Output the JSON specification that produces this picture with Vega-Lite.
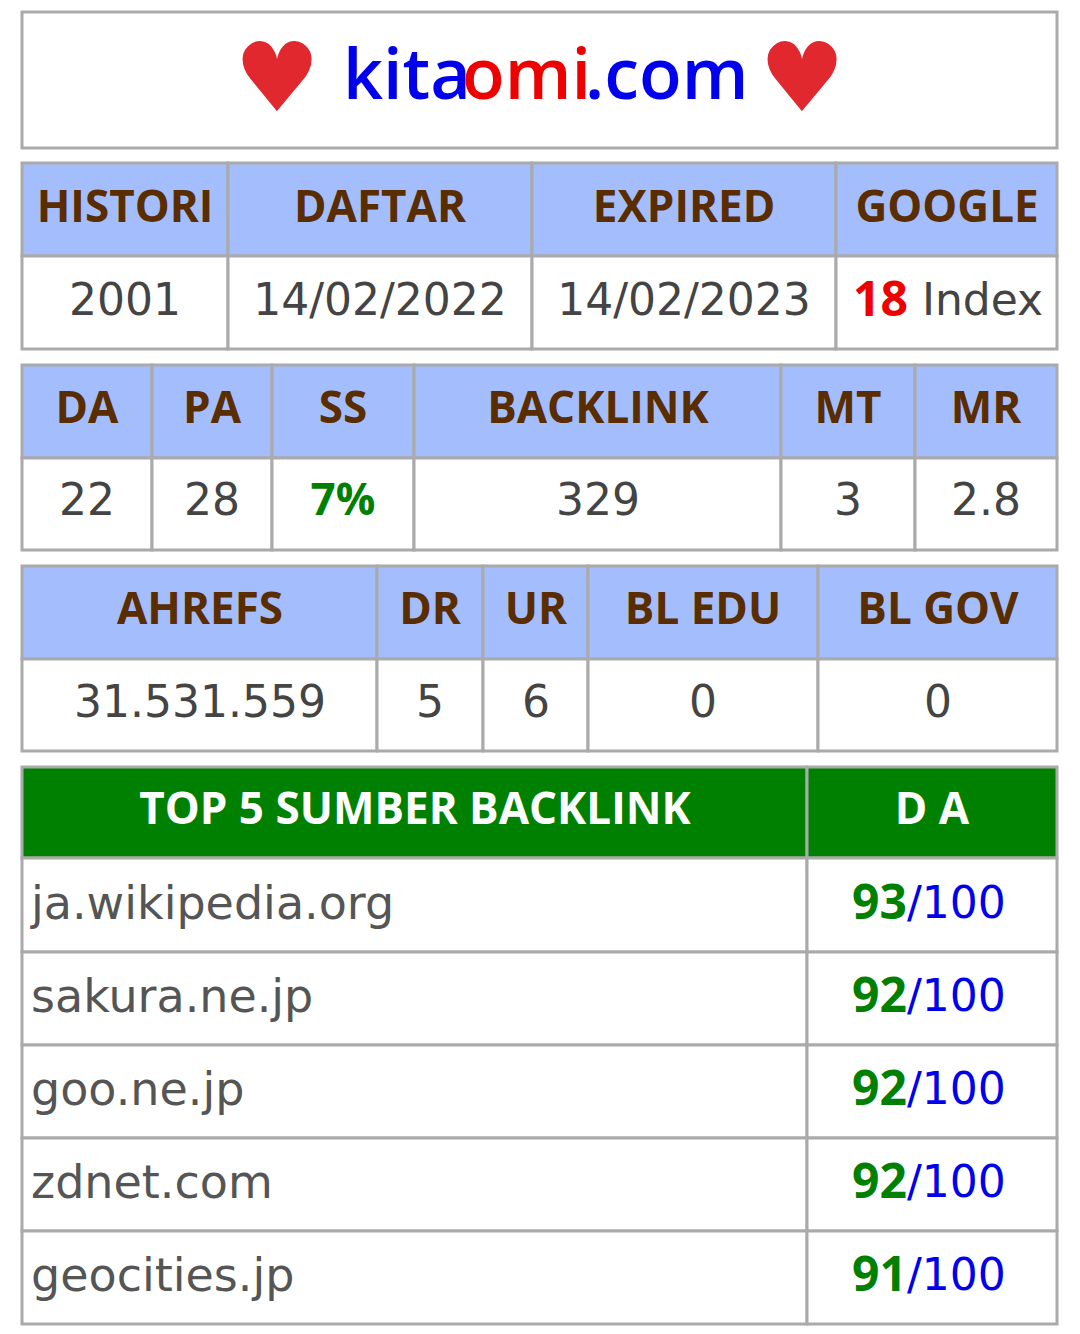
{
  "$schema": "https://vega.github.io/schema/vega-lite/v6.json",
  "width": 1080,
  "height": 1334,
  "padding": 0,
  "autosize": "none",
  "background": "white",
  "config": {"view": {"stroke": null}},
  "datasets": {
    "cells": [
      {"x": 22, "x2": 1057, "y": 12, "y2": 148, "fill": "#ffffff"},
      {"x": 22, "x2": 228, "y": 163, "y2": 256, "fill": "#a4bdfc"},
      {"x": 228, "x2": 532, "y": 163, "y2": 256, "fill": "#a4bdfc"},
      {"x": 532, "x2": 836, "y": 163, "y2": 256, "fill": "#a4bdfc"},
      {"x": 836, "x2": 1057, "y": 163, "y2": 256, "fill": "#a4bdfc"},
      {"x": 22, "x2": 228, "y": 256, "y2": 349, "fill": "#ffffff"},
      {"x": 228, "x2": 532, "y": 256, "y2": 349, "fill": "#ffffff"},
      {"x": 532, "x2": 836, "y": 256, "y2": 349, "fill": "#ffffff"},
      {"x": 836, "x2": 1057, "y": 256, "y2": 349, "fill": "#ffffff"},
      {"x": 22, "x2": 152, "y": 365, "y2": 458, "fill": "#a4bdfc"},
      {"x": 152, "x2": 272, "y": 365, "y2": 458, "fill": "#a4bdfc"},
      {"x": 272, "x2": 414, "y": 365, "y2": 458, "fill": "#a4bdfc"},
      {"x": 414, "x2": 781, "y": 365, "y2": 458, "fill": "#a4bdfc"},
      {"x": 781, "x2": 915, "y": 365, "y2": 458, "fill": "#a4bdfc"},
      {"x": 915, "x2": 1057, "y": 365, "y2": 458, "fill": "#a4bdfc"},
      {"x": 22, "x2": 152, "y": 458, "y2": 550, "fill": "#ffffff"},
      {"x": 152, "x2": 272, "y": 458, "y2": 550, "fill": "#ffffff"},
      {"x": 272, "x2": 414, "y": 458, "y2": 550, "fill": "#ffffff"},
      {"x": 414, "x2": 781, "y": 458, "y2": 550, "fill": "#ffffff"},
      {"x": 781, "x2": 915, "y": 458, "y2": 550, "fill": "#ffffff"},
      {"x": 915, "x2": 1057, "y": 458, "y2": 550, "fill": "#ffffff"},
      {"x": 22, "x2": 377, "y": 566, "y2": 659, "fill": "#a4bdfc"},
      {"x": 377, "x2": 483, "y": 566, "y2": 659, "fill": "#a4bdfc"},
      {"x": 483, "x2": 588, "y": 566, "y2": 659, "fill": "#a4bdfc"},
      {"x": 588, "x2": 818, "y": 566, "y2": 659, "fill": "#a4bdfc"},
      {"x": 818, "x2": 1057, "y": 566, "y2": 659, "fill": "#a4bdfc"},
      {"x": 22, "x2": 377, "y": 659, "y2": 751, "fill": "#ffffff"},
      {"x": 377, "x2": 483, "y": 659, "y2": 751, "fill": "#ffffff"},
      {"x": 483, "x2": 588, "y": 659, "y2": 751, "fill": "#ffffff"},
      {"x": 588, "x2": 818, "y": 659, "y2": 751, "fill": "#ffffff"},
      {"x": 818, "x2": 1057, "y": 659, "y2": 751, "fill": "#ffffff"},
      {"x": 22, "x2": 807, "y": 767, "y2": 858, "fill": "#008000"},
      {"x": 807, "x2": 1057, "y": 767, "y2": 858, "fill": "#008000"},
      {"x": 22, "x2": 807, "y": 858, "y2": 952, "fill": "#ffffff"},
      {"x": 807, "x2": 1057, "y": 858, "y2": 952, "fill": "#ffffff"},
      {"x": 22, "x2": 807, "y": 952, "y2": 1045, "fill": "#ffffff"},
      {"x": 807, "x2": 1057, "y": 952, "y2": 1045, "fill": "#ffffff"},
      {"x": 22, "x2": 807, "y": 1045, "y2": 1138, "fill": "#ffffff"},
      {"x": 807, "x2": 1057, "y": 1045, "y2": 1138, "fill": "#ffffff"},
      {"x": 22, "x2": 807, "y": 1138, "y2": 1231, "fill": "#ffffff"},
      {"x": 807, "x2": 1057, "y": 1138, "y2": 1231, "fill": "#ffffff"},
      {"x": 22, "x2": 807, "y": 1231, "y2": 1324, "fill": "#ffffff"},
      {"x": 807, "x2": 1057, "y": 1231, "y2": 1324, "fill": "#ffffff"}
    ],
    "texts": [
      {"x": 277, "y": 82, "text": "♥", "color": "#e0282e", "kind": "heart"},
      {"x": 802, "y": 82, "text": "♥", "color": "#e0282e", "kind": "heart"},
      {"x": 343, "y": 78, "text": "kita", "color": "#0000ee", "kind": "title"},
      {"x": 462, "y": 78, "text": "omi", "color": "#ee0000", "kind": "title"},
      {"x": 585, "y": 78, "text": ".com", "color": "#0000ee", "kind": "title"},
      {"x": 125, "y": 209, "text": "HISTORI", "color": "#5a2d00", "kind": "head"},
      {"x": 380, "y": 209, "text": "DAFTAR", "color": "#5a2d00", "kind": "head"},
      {"x": 684, "y": 209, "text": "EXPIRED", "color": "#5a2d00", "kind": "head"},
      {"x": 947, "y": 209, "text": "GOOGLE", "color": "#5a2d00", "kind": "head"},
      {"x": 125, "y": 302, "text": "2001", "color": "#444444", "kind": "body"},
      {"x": 380, "y": 302, "text": "14/02/2022", "color": "#444444", "kind": "body"},
      {"x": 684, "y": 302, "text": "14/02/2023", "color": "#444444", "kind": "body"},
      {"x": 908, "y": 302, "text": "18", "color": "#ee0000", "kind": "boldright"},
      {"x": 922, "y": 302, "text": "Index", "color": "#444444", "kind": "bodyleft"},
      {"x": 87, "y": 410, "text": "DA", "color": "#5a2d00", "kind": "head"},
      {"x": 212, "y": 410, "text": "PA", "color": "#5a2d00", "kind": "head"},
      {"x": 343, "y": 410, "text": "SS", "color": "#5a2d00", "kind": "head"},
      {"x": 598, "y": 410, "text": "BACKLINK", "color": "#5a2d00", "kind": "head"},
      {"x": 848, "y": 410, "text": "MT", "color": "#5a2d00", "kind": "head"},
      {"x": 986, "y": 410, "text": "MR", "color": "#5a2d00", "kind": "head"},
      {"x": 87, "y": 502, "text": "22", "color": "#444444", "kind": "body"},
      {"x": 212, "y": 502, "text": "28", "color": "#444444", "kind": "body"},
      {"x": 343, "y": 502, "text": "7%", "color": "#008000", "kind": "head"},
      {"x": 598, "y": 502, "text": "329", "color": "#444444", "kind": "body"},
      {"x": 848, "y": 502, "text": "3", "color": "#444444", "kind": "body"},
      {"x": 986, "y": 502, "text": "2.8", "color": "#444444", "kind": "body"},
      {"x": 200, "y": 611, "text": "AHREFS", "color": "#5a2d00", "kind": "head"},
      {"x": 430, "y": 611, "text": "DR", "color": "#5a2d00", "kind": "head"},
      {"x": 536, "y": 611, "text": "UR", "color": "#5a2d00", "kind": "head"},
      {"x": 703, "y": 611, "text": "BL EDU", "color": "#5a2d00", "kind": "head"},
      {"x": 938, "y": 611, "text": "BL GOV", "color": "#5a2d00", "kind": "head"},
      {"x": 200, "y": 704, "text": "31.531.559", "color": "#444444", "kind": "body"},
      {"x": 430, "y": 704, "text": "5", "color": "#444444", "kind": "body"},
      {"x": 536, "y": 704, "text": "6", "color": "#444444", "kind": "body"},
      {"x": 703, "y": 704, "text": "0", "color": "#444444", "kind": "body"},
      {"x": 938, "y": 704, "text": "0", "color": "#444444", "kind": "body"},
      {"x": 415, "y": 811, "text": "TOP 5 SUMBER BACKLINK", "color": "#ffffff", "kind": "head"},
      {"x": 932, "y": 811, "text": "D A", "color": "#ffffff", "kind": "head"},
      {"x": 31, "y": 905, "text": "ja.wikipedia.org", "color": "#555555", "kind": "site"},
      {"x": 31, "y": 998, "text": "sakura.ne.jp", "color": "#555555", "kind": "site"},
      {"x": 31, "y": 1091, "text": "goo.ne.jp", "color": "#555555", "kind": "site"},
      {"x": 31, "y": 1184, "text": "zdnet.com", "color": "#555555", "kind": "site"},
      {"x": 31, "y": 1277, "text": "geocities.jp", "color": "#555555", "kind": "site"},
      {"x": 907, "y": 905, "text": "93", "color": "#008000", "kind": "boldright"},
      {"x": 907, "y": 998, "text": "92", "color": "#008000", "kind": "boldright"},
      {"x": 907, "y": 1091, "text": "92", "color": "#008000", "kind": "boldright"},
      {"x": 907, "y": 1184, "text": "92", "color": "#008000", "kind": "boldright"},
      {"x": 907, "y": 1277, "text": "91", "color": "#008000", "kind": "boldright"},
      {"x": 907, "y": 905, "text": "/100", "color": "#0000ee", "kind": "bodyleft"},
      {"x": 907, "y": 998, "text": "/100", "color": "#0000ee", "kind": "bodyleft"},
      {"x": 907, "y": 1091, "text": "/100", "color": "#0000ee", "kind": "bodyleft"},
      {"x": 907, "y": 1184, "text": "/100", "color": "#0000ee", "kind": "bodyleft"},
      {"x": 907, "y": 1277, "text": "/100", "color": "#0000ee", "kind": "bodyleft"}
    ]
  },
  "encoding": {
    "x": {"field": "x", "type": "quantitative", "scale": {"domain": [0, 1080], "range": [0, 1080]}, "axis": null},
    "y": {"field": "y", "type": "quantitative", "scale": {"domain": [0, 1334], "range": [0, 1334]}, "axis": null}
  },
  "layer": [
    {
      "data": {"name": "cells"},
      "mark": {"type": "rect", "stroke": "#aaaaaa", "strokeWidth": 3},
      "encoding": {
        "x2": {"field": "x2"},
        "y2": {"field": "y2"},
        "fill": {"field": "fill", "type": "nominal", "scale": null}
      }
    },
    {
      "data": {"name": "texts"},
      "transform": [{"filter": "datum.kind == 'heart'"}],
      "mark": {"type": "text", "font": "DejaVu Sans", "fontSize": 96, "baseline": "middle", "align": "center"},
      "encoding": {"text": {"field": "text"}, "color": {"field": "color", "type": "nominal", "scale": null}}
    },
    {
      "data": {"name": "texts"},
      "transform": [{"filter": "datum.kind == 'title'"}],
      "mark": {"type": "text", "font": "Open Sans", "fontWeight": 600, "fontSize": 70, "baseline": "middle", "align": "left"},
      "encoding": {"text": {"field": "text"}, "color": {"field": "color", "type": "nominal", "scale": null}}
    },
    {
      "data": {"name": "texts"},
      "transform": [{"filter": "datum.kind == 'head'"}],
      "mark": {"type": "text", "font": "Open Sans", "fontWeight": "bold", "fontSize": 44, "letterSpacing": -1, "baseline": "middle", "align": "center"},
      "encoding": {"text": {"field": "text"}, "color": {"field": "color", "type": "nominal", "scale": null}}
    },
    {
      "data": {"name": "texts"},
      "transform": [{"filter": "datum.kind == 'body'"}],
      "mark": {"type": "text", "font": "DejaVu Sans", "fontSize": 44, "letterSpacing": 3, "baseline": "middle", "align": "center"},
      "encoding": {"text": {"field": "text"}, "color": {"field": "color", "type": "nominal", "scale": null}}
    },
    {
      "data": {"name": "texts"},
      "transform": [{"filter": "datum.kind == 'bodyleft'"}],
      "mark": {"type": "text", "font": "DejaVu Sans", "fontSize": 44, "baseline": "middle", "align": "left"},
      "encoding": {"text": {"field": "text"}, "color": {"field": "color", "type": "nominal", "scale": null}}
    },
    {
      "data": {"name": "texts"},
      "transform": [{"filter": "datum.kind == 'boldright'"}],
      "mark": {"type": "text", "font": "Open Sans", "fontWeight": "bold", "fontSize": 48, "baseline": "middle", "align": "right"},
      "encoding": {"text": {"field": "text"}, "color": {"field": "color", "type": "nominal", "scale": null}}
    },
    {
      "data": {"name": "texts"},
      "transform": [{"filter": "datum.kind == 'site'"}],
      "mark": {"type": "text", "font": "DejaVu Sans", "fontSize": 46, "baseline": "middle", "align": "left"},
      "encoding": {"text": {"field": "text"}, "color": {"field": "color", "type": "nominal", "scale": null}}
    }
  ]
}
